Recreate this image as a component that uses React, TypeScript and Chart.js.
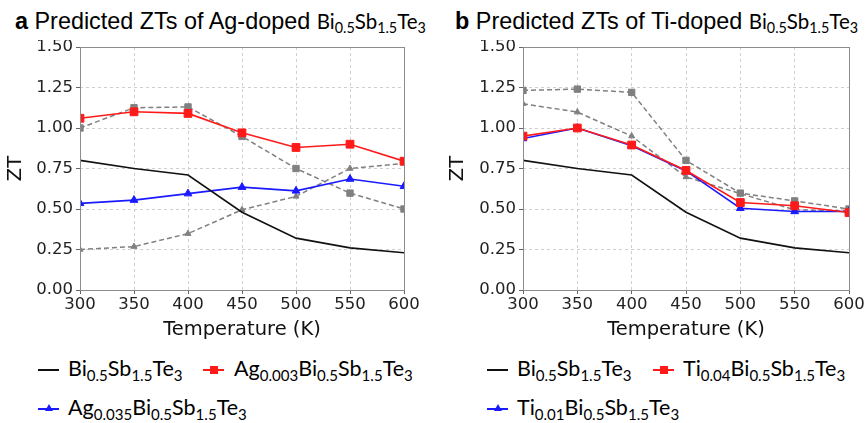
import React, { useEffect, useRef } from "react";
import { Chart, registerables } from "chart.js";

Chart.register(...registerables);

// ---------- data ----------
const temperatures = [300, 350, 400, 450, 500, 550, 600];
const yTickValues = [0, 0.25, 0.5, 0.75, 1.0, 1.25, 1.5];

const baseZT = [0.8, 0.75, 0.71, 0.48, 0.32, 0.26, 0.23];

const ag003ZT = [1.06, 1.1, 1.09, 0.97, 0.88, 0.9, 0.795];
const ag035ZT = [0.535, 0.555, 0.595, 0.635, 0.612, 0.685, 0.64];
const ag003RefZT = [1.0, 1.125, 1.13, 0.948, 0.75, 0.598, 0.5];
const ag035RefZT = [0.25, 0.268, 0.348, 0.495, 0.578, 0.75, 0.782];

const ti004ZT = [0.95, 1.0, 0.895, 0.738, 0.54, 0.52, 0.478];
const ti001ZT = [0.935, 1.0, 0.89, 0.735, 0.505, 0.485, 0.485];
const ti004RefZT = [1.232, 1.24, 1.22, 0.8, 0.598, 0.55, 0.5];
const ti001RefZT = [1.15, 1.098, 0.95, 0.698, 0.595, 0.495, 0.488];

const BLACK = "#111111";
const RED = "#ff1a1a";
const BLUE = "#1a1aff";
const GRAY = "#808080";

const toPts = (ys: number[]) => temperatures.map((x, i) => ({ x, y: ys[i] }));

function mainLine(label: string, ys: number[], color: string, style: any, radius: number) {
  return {
    label,
    data: toPts(ys),
    borderColor: color,
    backgroundColor: color,
    borderWidth: 1.6,
    pointStyle: style,
    pointRadius: style ? radius : 0,
    pointBorderWidth: 1,
    tension: 0,
    fill: false,
  };
}

function refLine(label: string, ys: number[], style: any, radius: number) {
  return {
    label,
    data: toPts(ys),
    borderColor: GRAY,
    backgroundColor: GRAY,
    borderWidth: 1.5,
    borderDash: [5, 3],
    pointStyle: style,
    pointRadius: radius,
    pointBorderWidth: 1,
    tension: 0,
    fill: false,
  };
}

const boxPlugin = {
  id: "boxPlugin",
  afterDatasetsDraw(chart: any) {
    const { ctx, chartArea } = chart;
    ctx.save();
    ctx.setLineDash([]);
    ctx.strokeStyle = "#8c8c8c";
    ctx.lineWidth = 1;
    ctx.strokeRect(
      Math.round(chartArea.left) + 0.5,
      Math.round(chartArea.top) + 0.5,
      Math.round(chartArea.right - chartArea.left),
      Math.round(chartArea.bottom - chartArea.top)
    );
    ctx.restore();
  },
};

type PanelProps = {
  left: number;
  width: number;
  yAxisWidth: number;
  padRight: number;
  yTitlePad: number;
  datasets: any[];
};

function ChartPanel({ left, width, yAxisWidth, padRight, yTitlePad, datasets }: PanelProps) {
  const ref = useRef<HTMLCanvasElement | null>(null);
  useEffect(() => {
    if (!ref.current) return;
    const chart = new Chart(ref.current, {
      type: "line",
      data: { datasets },
      options: {
        animation: false,
        responsive: false,
        devicePixelRatio: 1,
        layout: { autoPadding: false, padding: { top: 7, right: padRight, left: 0, bottom: 0 } },
        plugins: { legend: { display: false }, tooltip: { enabled: false } },
        scales: {
          x: {
            type: "linear",
            min: 300,
            max: 600,
            afterFit: (s: any) => {
              s.height = 60;
              s.paddingLeft = 0;
              s.paddingRight = 0;
            },
            ticks: {
              stepSize: 50,
              maxRotation: 0,
              autoSkip: false,
              padding: 1,
              color: "#222",
              font: { family: "DejaVu Sans", size: 16.5 },
            },
            grid: {
              color: "#cfcfcf",
              lineWidth: 1,
              tickLength: 4,
              tickColor: "#666",
              tickBorderDash: [],
            },
            border: { display: false, dash: [3, 3] },
            title: {
              display: true,
              text: "Temperature (K)",
              color: "#111",
              font: { family: "DejaVu Sans", size: 19.5 },
              padding: { top: 0, bottom: 8 },
            },
          },
          y: {
            type: "linear",
            min: 0,
            max: 1.5,
            afterBuildTicks: (s: any) => {
              s.ticks = yTickValues.map((v) => ({ value: v }));
            },
            afterFit: (s: any) => {
              s.width = yAxisWidth;
              s.paddingTop = 0;
              s.paddingBottom = 0;
            },
            ticks: {
              padding: 3,
              color: "#222",
              font: { family: "DejaVu Sans", size: 16.5 },
              callback: (v: any) => Number(v).toFixed(2),
            },
            grid: {
              color: "#cfcfcf",
              lineWidth: 1,
              tickLength: 4,
              tickColor: "#666",
              tickBorderDash: [],
            },
            border: { display: false, dash: [3, 3] },
            title: {
              display: true,
              text: "ZT",
              color: "#111",
              font: { family: "DejaVu Sans", size: 19.5 },
              padding: { top: yTitlePad, bottom: 0 },
            },
          },
        },
      } as any,
      plugins: [boxPlugin],
    });
    return () => chart.destroy();
  }, []);
  return (
    <canvas
      ref={ref}
      width={width}
      height={310}
      style={{ position: "absolute", left, top: 40, width, height: 310 }}
    />
  );
}

const formulaFont = "Lato, 'Noto Sans', sans-serif";

function Sub({ children }: { children: React.ReactNode }) {
  return (
    <span style={{ fontSize: "0.7em", position: "relative", top: "0.3em", lineHeight: 0 }}>
      {children}
    </span>
  );
}

function Formula({ prefix, prefixSub }: { prefix?: string; prefixSub?: string }) {
  return (
    <span style={{ fontFamily: formulaFont }}>
      {prefix ? (
        <>
          {prefix}
          <Sub>{prefixSub}</Sub>
        </>
      ) : null}
      Bi<Sub>0.5</Sub>Sb<Sub>1.5</Sub>Te<Sub>3</Sub>
    </span>
  );
}

function Title({ left, letter, dopant }: { left: number; letter: string; dopant: string }) {
  return (
    <div
      style={{
        position: "absolute",
        left,
        top: 8,
        whiteSpace: "nowrap",
        fontFamily: "'Liberation Sans', Arial, sans-serif",
        fontSize: 23.4,
        lineHeight: "26px",
        color: "#000",
      }}
    >
      <b>{letter}</b> Predicted ZTs of {dopant}-doped{" "}
      <span style={{ fontSize: 20.5 }}>
        <Formula />
      </span>
    </div>
  );
}

function Sample({ x, y, color, marker }: { x: number; y: number; color: string; marker?: "square" | "triangle" }) {
  return (
    <div style={{ position: "absolute", left: x, top: y - 1, width: 21, height: 2.2, background: color }}>
      {marker === "square" ? (
        <div
          style={{
            position: "absolute",
            left: 6.5,
            top: -3,
            width: 8,
            height: 8,
            background: color,
          }}
        />
      ) : null}
      {marker === "triangle" ? (
        <div
          style={{
            position: "absolute",
            left: 6.5,
            top: -4,
            width: 0,
            height: 0,
            borderLeft: "4px solid transparent",
            borderRight: "4px solid transparent",
            borderBottom: `7px solid ${color}`,
          }}
        />
      ) : null}
    </div>
  );
}

function LegendText({ x, y, prefix, prefixSub }: { x: number; y: number; prefix?: string; prefixSub?: string }) {
  return (
    <div
      style={{
        position: "absolute",
        left: x,
        top: y - 13,
        whiteSpace: "nowrap",
        fontSize: 21.5,
        lineHeight: "22px",
        color: "#000",
      }}
    >
      <Formula prefix={prefix} prefixSub={prefixSub} />
    </div>
  );
}

export default function App() {
  const leftSets = [
    mainLine("Bi0.5Sb1.5Te3", baseZT, BLACK, false, 0),
    mainLine("Ag0.003Bi0.5Sb1.5Te3", ag003ZT, RED, "rect", 5.5),
    mainLine("Ag0.035Bi0.5Sb1.5Te3", ag035ZT, BLUE, "triangle", 4.5),
    refLine("Ag0.003 reference", ag003RefZT, "rect", 4.5),
    refLine("Ag0.035 reference", ag035RefZT, "triangle", 3.5),
  ];
  const rightSets = [
    mainLine("Bi0.5Sb1.5Te3", baseZT, BLACK, false, 0),
    mainLine("Ti0.04Bi0.5Sb1.5Te3", ti004ZT, RED, "rect", 5.5),
    mainLine("Ti0.01Bi0.5Sb1.5Te3", ti001ZT, BLUE, "triangle", 4.5),
    refLine("Ti0.04 reference", ti004RefZT, "rect", 4.5),
    refLine("Ti0.01 reference", ti001RefZT, "triangle", 3.5),
  ];
  return (
    <div
      style={{
        position: "absolute",
        left: 0,
        top: 0,
        width: 867,
        height: 423,
        background: "#fff",
        overflow: "hidden",
      }}
    >
      <Title left={15} letter="a" dopant="Ag" />
      <Title left={455} letter="b" dopant="Ti" />
      <ChartPanel left={0} width={430} yAxisWidth={80} padRight={26} yTitlePad={4} datasets={leftSets} />
      <ChartPanel left={440} width={427} yAxisWidth={83} padRight={18} yTitlePad={6} datasets={rightSets} />

      <Sample x={38} y={370} color={BLACK} />
      <LegendText x={68} y={370} />
      <Sample x={203} y={370} color={RED} marker="square" />
      <LegendText x={234} y={370} prefix="Ag" prefixSub="0.003" />
      <Sample x={38} y={409} color={BLUE} marker="triangle" />
      <LegendText x={68} y={409} prefix="Ag" prefixSub="0.035" />

      <Sample x={487} y={370} color={BLACK} />
      <LegendText x={517} y={370} />
      <Sample x={653} y={370} color={RED} marker="square" />
      <LegendText x={683} y={370} prefix="Ti" prefixSub="0.04" />
      <Sample x={487} y={409} color={BLUE} marker="triangle" />
      <LegendText x={517} y={409} prefix="Ti" prefixSub="0.01" />
    </div>
  );
}
